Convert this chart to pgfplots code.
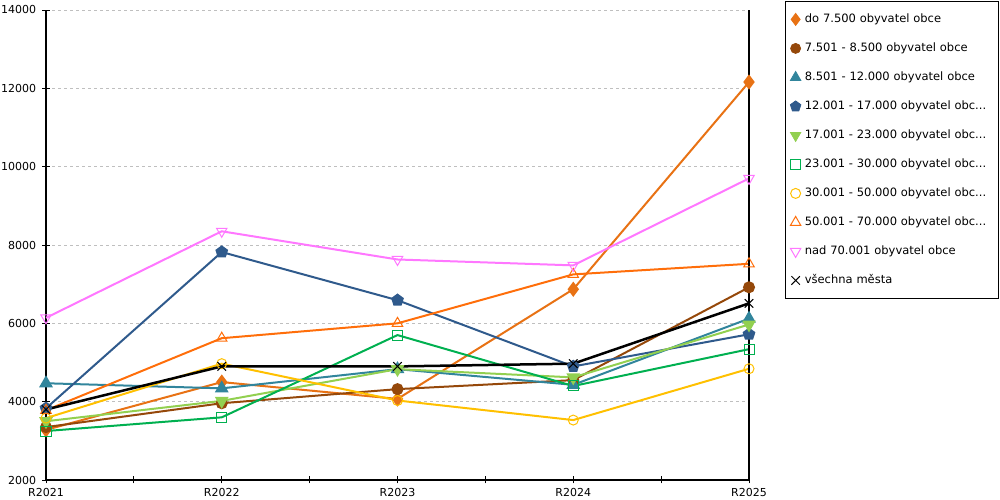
\documentclass[border=0pt]{standalone}
\usepackage{pgfplots}
\pgfplotsset{compat=1.18}
\usetikzlibrary{plotmarks}
\usepackage{fontspec}
\setmainfont{DejaVu Sans}
\definecolor{c1}{RGB}{232,114,20}
\definecolor{c2}{RGB}{149,72,10}
\definecolor{c3}{RGB}{49,133,156}
\definecolor{c4}{RGB}{47,90,140}
\definecolor{c5}{RGB}{146,208,80}
\definecolor{c6}{RGB}{0,176,80}
\definecolor{c7}{RGB}{255,192,0}
\definecolor{c8}{RGB}{255,110,10}
\definecolor{c9}{RGB}{255,119,255}
\begin{document}
\begin{tikzpicture}
\path[use as bounding box] (0,0) rectangle (1000pt,500pt);
\begin{axis}[
  at={(46pt,20pt)}, anchor=south west,
  scale only axis, width=703pt, height=470pt,
  xmin=0, xmax=4, ymin=2000, ymax=14000,
  axis x line=bottom, axis y line=left,
  axis line style={-, line width=1.2pt, black},
  xtick={0,1,2,3,4},
  xticklabels={R2021,R2022,R2023,R2024,R2025},
  minor xtick={0.5,1.5,2.5,3.5},
  ytick={2000,4000,6000,8000,10000,12000,14000},
  scaled y ticks=false,
  tick align=center,
  major tick length=7pt, minor tick length=7pt,
  every tick/.style={black, line width=0.8pt},
  ymajorgrids,
  major grid style={dashed, dash pattern=on 3pt off 3pt, color=black!25, line width=0.8pt},
  tick label style={font=\fontsize{11}{13}\selectfont},
  /pgf/number format/assume math mode=true,
  /pgf/number format/set thousands separator={},
  yticklabel style={xshift=-2pt},
  xticklabel style={yshift=-1pt},
  clip=false,
  line width=2pt,
  every axis plot/.append style={mark size=5pt},
  legend image code/.code={\draw[#1, only marks] plot coordinates {(5pt,0pt)};},
  legend style={at={(1.0512,1.0191)}, anchor=north west, draw=black, line width=0.8pt,
    inner xsep=5pt, inner ysep=10pt, row sep=13pt,
    font=\fontsize{11.5}{13}\selectfont, cells={anchor=west},
    nodes={inner xsep=4pt, inner ysep=2pt, text height=9pt, text depth=3pt, text width=185pt}},
  legend cell align=left,
]
\addplot[c1, mark=diamond*, mark size=6pt, mark options={solid, fill=c1}] coordinates {(0,3280)(1,4500)(2,4070)(3,6870)(4,12160)};
\addlegendentry{do 7.500 obyvatel obce}
\addplot[c2, mark=*, mark options={solid, fill=c2}] coordinates {(0,3350)(1,3960)(2,4320)(3,4550)(4,6920)};
\addlegendentry{7.501 - 8.500 obyvatel obce}
\addplot[c3, mark=triangle*, mark size=6pt, mark options={solid, fill=c3}] coordinates {(0,4470)(1,4340)(2,4830)(3,4430)(4,6120)};
\addlegendentry{8.501 - 12.000 obyvatel obce}
\addplot[c4, mark=pentagon*, mark size=5.5pt, mark options={solid, fill=c4}] coordinates {(0,3830)(1,7820)(2,6590)(3,4900)(4,5720)};
\addlegendentry{12.001 - 17.000 obyvatel obc...}
\addplot[c5, mark=triangle*, mark size=6pt, mark options={solid, fill=c5, rotate=180}] coordinates {(0,3500)(1,4020)(2,4830)(3,4620)(4,5970)};
\addlegendentry{17.001 - 23.000 obyvatel obc...}
\addplot[c6, mark=square, mark options={solid, line width=1pt}] coordinates {(0,3250)(1,3600)(2,5700)(3,4400)(4,5340)};
\addlegendentry{23.001 - 30.000 obyvatel obc...}
\addplot[c7, mark=o, mark options={solid, line width=1pt}] coordinates {(0,3580)(1,4970)(2,4030)(3,3530)(4,4840)};
\addlegendentry{30.001 - 50.000 obyvatel obc...}
\addplot[c8, mark=triangle, mark size=6pt, mark options={solid, line width=1pt}] coordinates {(0,3780)(1,5620)(2,6000)(3,7250)(4,7520)};
\addlegendentry{50.001 - 70.000 obyvatel obc...}
\addplot[c9, mark=triangle, mark size=6pt, mark options={solid, line width=1pt, rotate=180}] coordinates {(0,6140)(1,8350)(2,7630)(3,7480)(4,9700)};
\addlegendentry{nad 70.001 obyvatel obce}
\addplot[black, line width=2.5pt, mark=x, mark size=6pt, mark options={solid, line width=1pt}] coordinates {(0,3800)(1,4900)(2,4900)(3,4970)(4,6510)};
\addlegendentry{všechna města}
\draw[black, line width=1.2pt] (axis cs:4,2000) -- (axis cs:4,14000);
\end{axis}
\end{tikzpicture}
\end{document}
